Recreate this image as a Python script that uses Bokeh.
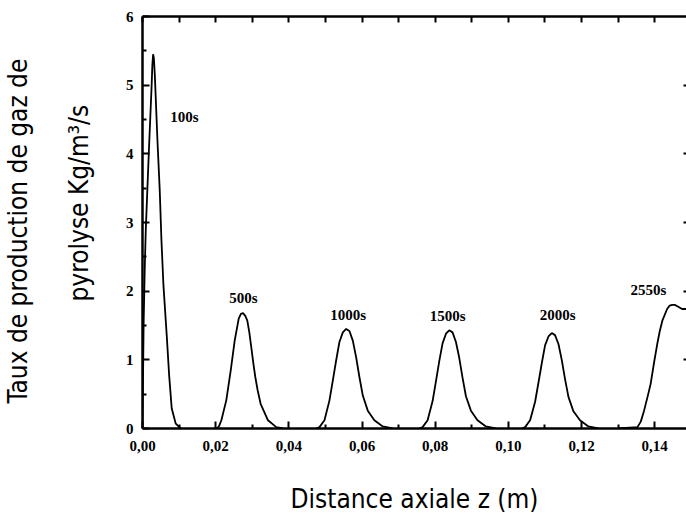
from bokeh.plotting import figure
from bokeh.models import Range1d, LinearAxis, FixedTicker, Label, Title
from bokeh.embed import file_html
from bokeh.resources import INLINE

# ---- data ----
z_100 = [0.0, 0.0003, 0.0006, 0.0009, 0.00175, 0.0025, 0.0027, 0.0029, 0.0031, 0.00336,
         0.00409, 0.00472, 0.00518, 0.00573, 0.00663, 0.00729, 0.00799, 0.00909, 0.01045]
q_100 = [0.0, 1.5, 2.3, 2.9, 4.05, 5.0, 5.3, 5.45, 5.4, 5.16,
         4.19, 3.46, 2.74, 2.08, 1.35, 0.77, 0.29, 0.07, 0.0]

z_500 = [0.0202, 0.0209, 0.02156, 0.0229, 0.0241, 0.0252, 0.0263, 0.0269, 0.02747, 0.0281,
         0.02865, 0.0292, 0.02974, 0.0303, 0.03083, 0.0315, 0.03229, 0.0343, 0.03656, 0.0384]
q_500 = [0.0, 0.03, 0.12, 0.41, 0.84, 1.28, 1.60, 1.67, 1.68, 1.64,
         1.57, 1.40, 1.18, 0.95, 0.75, 0.55, 0.36, 0.12, 0.02, 0.0]

z_1000 = [0.0475, 0.04838, 0.04974, 0.05111, 0.05203, 0.05293, 0.05383, 0.05476, 0.05566,
          0.05656, 0.05749, 0.05839, 0.05929, 0.06022, 0.06158, 0.06338, 0.06568, 0.0684]
q_1000 = [0.0, 0.02, 0.12, 0.41, 0.70, 0.99, 1.26, 1.40, 1.45,
          1.42, 1.28, 1.04, 0.75, 0.48, 0.26, 0.12, 0.03, 0.0]

z_1500 = [0.0757, 0.07657, 0.07793, 0.0793, 0.08022, 0.08112, 0.08202, 0.08295, 0.08385,
          0.08475, 0.08568, 0.08658, 0.08748, 0.08841, 0.08977, 0.09157, 0.09387, 0.0966]
q_1500 = [0.0, 0.02, 0.12, 0.40, 0.69, 0.98, 1.24, 1.38, 1.43,
          1.40, 1.26, 1.03, 0.74, 0.47, 0.26, 0.12, 0.03, 0.0]

z_2000 = [0.10371, 0.10459, 0.10595, 0.10732, 0.10824, 0.10914, 0.11004, 0.11097, 0.11187,
          0.11277, 0.1137, 0.1146, 0.1155, 0.11643, 0.11779, 0.11959, 0.12189, 0.12461]
q_2000 = [0.0, 0.02, 0.12, 0.39, 0.67, 0.95, 1.21, 1.34, 1.39,
          1.36, 1.23, 1.00, 0.72, 0.46, 0.25, 0.12, 0.03, 0.0]

z_2550 = [0.1300, 0.1353, 0.1362, 0.1371, 0.1380, 0.1389, 0.1398, 0.1407, 0.1414, 0.1421,
          0.1434, 0.1441, 0.1448, 0.1455, 0.1462, 0.1475, 0.1487]
q_2550 = [0.0, 0.02, 0.10, 0.26, 0.45, 0.65, 0.95, 1.23, 1.42, 1.57,
          1.74, 1.79, 1.80, 1.80, 1.78, 1.74, 1.74]

series = [(z_100, q_100), (z_500, q_500), (z_1000, q_1000),
          (z_1500, q_1500), (z_2000, q_2000), (z_2550, q_2550)]

# annotation labels and their positions (data units)
time_labels = ["100s", "500s", "1000s", "1500s", "2000s", "2550s"]
time_label_z = [0.01146, 0.02756, 0.0562, 0.0834, 0.1135, 0.1383]
time_label_q = [4.54, 1.907, 1.652, 1.645, 1.66, 2.02]

x_ticks = [0.0, 0.02, 0.04, 0.06, 0.08, 0.10, 0.12, 0.14]
x_tick_labels = ["0,00", "0,02", "0,04", "0,06", "0,08", "0,10", "0,12", "0,14"]
x_minor = [0.01, 0.03, 0.05, 0.07, 0.09, 0.11, 0.13]
y_ticks = [0, 1, 2, 3, 4, 5, 6]
y_tick_labels = ["0", "1", "2", "3", "4", "5", "6"]
y_minor = [0.5, 1.5, 2.5, 3.5, 4.5, 5.5]

x_label = "Distance axiale z (m)"
y_label_1 = "Taux de production de gaz de"
y_label_2 = "pyrolyse Kg/m\u00b3/s"

SERIF = "Liberation Serif"
COND = "Liberation Sans Narrow, DejaVu Sans Condensed, sans-serif"

p = figure(width=686, height=516, x_range=Range1d(0, 0.1487), y_range=Range1d(0, 6),
           output_backend="svg", toolbar_location=None)
p.min_border_left = 141
p.min_border_right = 0
p.min_border_top = 16
p.min_border_bottom = 88
p.outline_line_color = None
p.xgrid.visible = False
p.ygrid.visible = False
p.background_fill_color = "white"
p.border_fill_color = "white"

for zs, qs in series:
    p.line(zs, qs, line_color="black", line_width=1.8)


def style_axis(ax):
    ax.axis_line_width = 2.5
    ax.axis_line_color = "black"
    ax.major_tick_in = 7
    ax.major_tick_out = 0
    ax.minor_tick_in = 4
    ax.minor_tick_out = 0
    ax.major_tick_line_width = 2
    ax.minor_tick_line_width = 2
    ax.major_tick_line_color = "black"
    ax.minor_tick_line_color = "black"
    ax.major_label_text_font = SERIF
    ax.major_label_text_font_style = "bold"
    ax.major_label_text_font_size = "15px"
    ax.major_label_text_color = "black"


xa = p.xaxis[0]
xa.ticker = FixedTicker(ticks=x_ticks, minor_ticks=x_minor)
xa.major_label_overrides = {t: l for t, l in zip(x_ticks, x_tick_labels)}
style_axis(xa)
xa.major_label_standoff = 12
xa.axis_label = x_label
xa.axis_label_standoff = 30
xa.axis_label_text_font = COND
xa.axis_label_text_font_style = "normal"
xa.axis_label_text_font_size = "26px"
xa.axis_label_text_color = "black"

ya = p.yaxis[0]
ya.ticker = FixedTicker(ticks=y_ticks, minor_ticks=y_minor)
ya.major_label_overrides = {t: l for t, l in zip(y_ticks, y_tick_labels)}
style_axis(ya)
ya.major_label_standoff = 9

# top frame edge: tick marks only (no labels)
top = LinearAxis(ticker=FixedTicker(ticks=[], minor_ticks=x_ticks + x_minor))
style_axis(top)
top.minor_tick_in = 6
p.add_layout(top, "above")

# right edge: inward tick marks only, the line itself lies just outside the picture
right = LinearAxis(ticker=FixedTicker(ticks=[], minor_ticks=y_ticks[1:-1]))
style_axis(right)
right.axis_line_color = None
right.minor_tick_in = 3
p.add_layout(right, "right")

for t, zx, qy in zip(time_labels, time_label_z, time_label_q):
    p.add_layout(Label(x=zx, y=qy, text=t, text_align="center", text_baseline="middle",
                       text_font=SERIF, text_font_style="bold", text_font_size="15px",
                       text_color="black"))

t2 = Title(text=y_label_2, align="left", offset=127, standoff=58,
           text_font=COND, text_font_style="normal", text_font_size="26px", text_color="black")
p.add_layout(t2, "left")
t1 = Title(text=y_label_1, align="left", offset=25, standoff=0,
           text_font=COND, text_font_style="normal", text_font_size="26px", text_color="black")
p.add_layout(t1, "left")

open("out.html", "w").write(file_html(p, INLINE))
